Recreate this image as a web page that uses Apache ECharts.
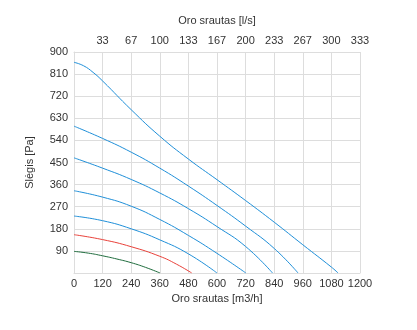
<!DOCTYPE html>
<html><head><meta charset="utf-8">
<script src="https://cdn.jsdelivr.net/npm/echarts@6/dist/echarts.min.js"></script>
<style>html,body{margin:0;padding:0;background:#fff}#c{width:417px;height:330px}</style>
</head><body><div id="c"></div>
<script>
// m3/h vs Pa
const curveGreen = [[0,88],[60,81],[120,70],[180,57],[240,42],[300,23],[361,0]];
const curveRed = [[0,156],[120,136],[240,107],[360,68],[430,36],[494,0]];
const curveB1 = [[0,232],[120,213],[240,180],[360,135],[480,78],[600,0]];
const curveB2 = [[0,335],[120,309],[240,272],[360,218],[480,153],[600,80],[721,0]];
const curveB3 = [[0,469],[120,427],[240,381],[360,326],[480,262],[600,189],[720,108],[833,0]];
const curveB4 = [[0,598],[120,548],[240,492],[360,427],[480,354],[600,275],[720,191],[840,100],[940,0]];
const curveB5 = [[0,858],[40,844],[80,817],[120,782],[240,665],[360,557],[480,464],[600,380],[720,295],[840,207],[960,115],[1080,24],[1108,0]];
const topTickLabels = ['', '33','67','100','133','167','200','233','267','300','333'];
const blue = '#1f8fd8';

const series = [
  [curveB5, blue],[curveB4, blue],[curveB3, blue],[curveB2, blue],[curveB1, blue],
  [curveRed, '#e8413a'],[curveGreen, '#1e6b3c']
].map(([d,c]) => ({
  type:'line', data:d, smooth:0.5, showSymbol:false, symbol:'none',
  lineStyle:{color:c, width:1}, itemStyle:{color:c}, xAxisIndex:0, yAxisIndex:0, z:3
}));

const txt = {color:'#333', fontSize:11, fontFamily:'Liberation Sans, Arial, sans-serif'};
const chart = echarts.init(document.getElementById('c'), null, {renderer:'canvas'});
chart.setOption({
  animation:false,
  grid:{left:74, right:57, top:52, bottom:57, containLabel:false},
  xAxis:[{
    type:'value', position:'bottom', min:0, max:1200, interval:120,
    name:'Oro srautas [m3/h]', nameLocation:'middle', nameGap:20, nameTextStyle:txt,
    axisLine:{show:true, lineStyle:{color:'#ddd'}}, axisTick:{show:false},
    axisLabel:Object.assign({margin:5, formatter:(v)=>String(v)}, txt),
    splitLine:{show:true, lineStyle:{color:'#ddd', width:1}}
  },{
    type:'value', position:'top', min:0, max:1200, interval:120,
    name:'Oro srautas [l/s]', nameLocation:'middle', nameGap:26, nameTextStyle:txt,
    axisLine:{show:true, lineStyle:{color:'#ddd'}}, axisTick:{show:false},
    axisLabel:Object.assign({margin:6, formatter:(v)=>topTickLabels[Math.round(v/120)] || ''}, txt),
    splitLine:{show:false}
  }],
  yAxis:[{
    type:'value', min:0, max:900, interval:90,
    name:'Slėgis [Pa]', nameLocation:'middle', nameGap:39, nameRotate:90, nameTextStyle:txt,
    axisLine:{show:true, lineStyle:{color:'#ddd'}}, axisTick:{show:false},
    axisLabel:Object.assign({margin:6, formatter:(v)=> v===0 ? '' : String(v)}, txt),
    splitLine:{show:true, lineStyle:{color:'#ddd', width:1}}
  }],
  series:series
});
</script></body></html>
